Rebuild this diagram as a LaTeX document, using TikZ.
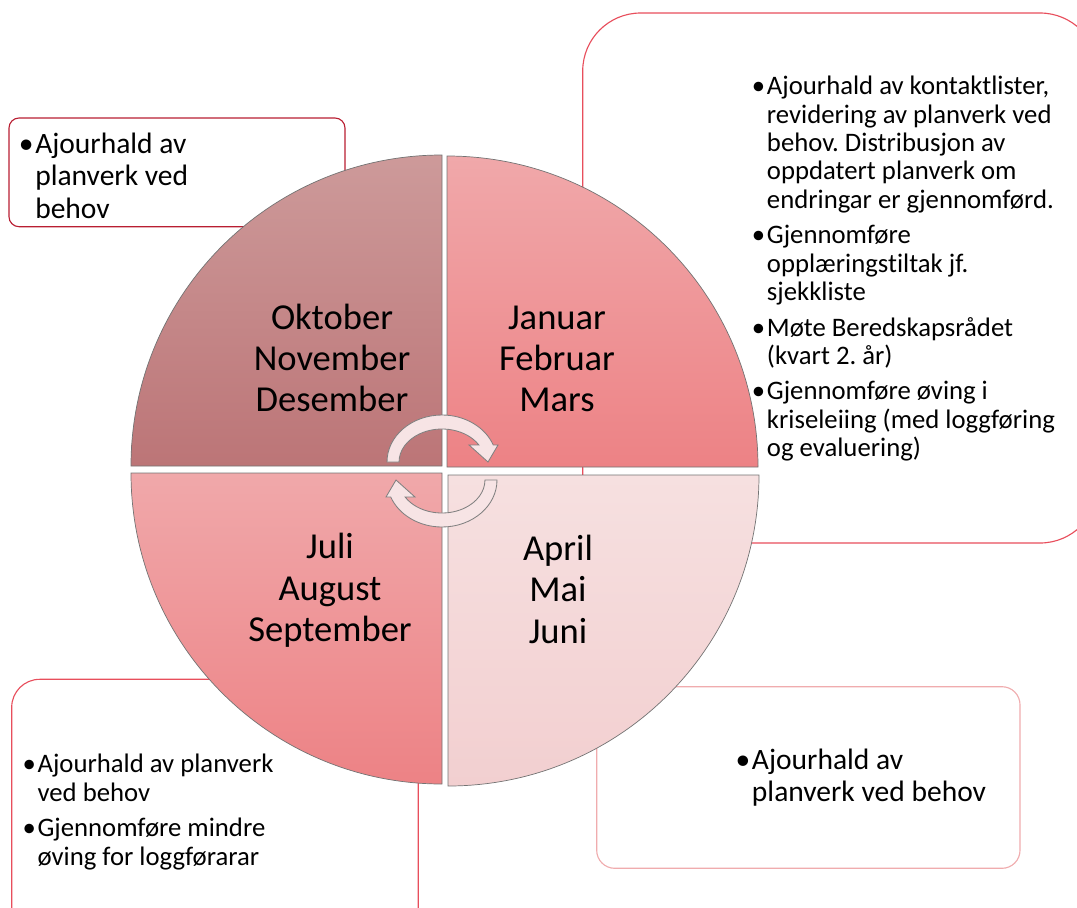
\documentclass[tikz,border=0pt]{standalone}
\usepackage{fontspec}
\setmainfont{Carlito}[Ligatures=NoCommon]
\usepackage{xcolor}
\frenchspacing

\definecolor{oktTop}{RGB}{205,154,154}
\definecolor{oktBot}{RGB}{188,117,119}
\definecolor{janTop}{RGB}{240,168,170}
\definecolor{janBot}{RGB}{237,130,133}
\definecolor{julTop}{RGB}{240,168,170}
\definecolor{julBot}{RGB}{237,130,133}
\definecolor{aprTop}{RGB}{246,224,224}
\definecolor{aprBot}{RGB}{242,207,208}
\definecolor{turnFill}{RGB}{247,228,229}
\definecolor{boxDark}{RGB}{185,30,50}
\definecolor{boxRed}{RGB}{232,78,92}
\definecolor{boxPale}{RGB}{240,172,174}

\newcommand{\bp}{\llap{\textbullet\hspace{1.2pt}}}

\begin{document}
\begin{tikzpicture}[x=0.025cm, y=0.025cm,
	month/.style={font=\fontsize{26}{29.4}\selectfont, align=center, anchor=base, inner sep=0pt},
	noteL/.style={font=\fontsize{21}{23}\selectfont, align=left, anchor=base west, inner sep=0pt},
	noteS/.style={font=\fontsize{19}{20.2}\selectfont, align=left, anchor=base west, inner sep=0pt},
	quad/.style={draw=black!55, line width=0.5pt},
	turn/.style={draw=black!50, line width=0.6pt, fill=turnFill}]
	\useasboundingbox (0,0) rectangle (1077,-907);
	\clip (0,0) rectangle (1077,-907);

	% frames behind the wheel
	\draw[boxDark, line width=0.8pt, fill=white, rounded corners=0.25cm] (9,-118) rectangle (345,-226.7);
	\draw[boxRed, line width=0.8pt, fill=white, rounded corners=1.45cm] (582.7,-13) rectangle (1098,-543);
	\draw[boxRed, line width=0.8pt, fill=white, rounded corners=0.7cm] (11.7,-679.3) rectangle (418.3,-940);
	\draw[boxPale, line width=0.8pt, fill=white, rounded corners=0.45cm] (596.7,-686.7) rectangle (1020,-868.3);

	% the four quarters
	\shade[quad, top color=oktTop, bottom color=oktBot] (442,-466) -- ++(-311,0) arc[start angle=180, end angle=90, radius=311] -- cycle;
	\shade[quad, top color=janTop, bottom color=janBot] (447,-467) -- ++(0,311) arc[start angle=90, end angle=0, radius=311] -- cycle;
	\shade[quad, top color=aprTop, bottom color=aprBot] (448,-475) -- ++(311,0) arc[start angle=0, end angle=-90, radius=311] -- cycle;
	\shade[quad, top color=julTop, bottom color=julBot] (442,-473) -- ++(0,-311) arc[start angle=270, end angle=180, radius=311] -- cycle;

	% turning arrows
	\foreach \r in {0,180}{
		\draw[turn, rotate around={\r:(442,-471)}] (387,-462)
			arc[start angle=180, end angle=21.2, x radius=55, y radius=47]
			-- (498,-445) -- (488,-462) -- (469,-445) -- (478.9,-445)
			arc[start angle=31, end angle=180, x radius=43, y radius=33] -- cycle;
	}

	\node[month] (okt) at (332,-411.8) {Oktober\\November\\Desember};
	\node[month] (jan) at (557,-411.8) {Januar\\Februar\\Mars};
	\node[month] (jul) at (330,-641.6) {Juli\\August\\September};
	\node[month] (apr) at (558,-643) {April\\Mai\\Juni};

	\node[noteL] (noteOkt) at (35,-218) {\bp Ajourhald av\\planverk ved\\behov};
	\node[noteS] (noteJan) at (766.7,-456.7) {\bp Ajourhald av kontaktlister,\\revidering av planverk ved\\behov. Distribusjon av\\oppdatert planverk om\\endringar er gjennomførd.\\[5pt]
		\bp Gjennomføre\\opplæringstiltak jf.\\sjekkliste\\[5pt]
		\bp Møte Beredskapsrådet\\(kvart 2. år)\\[5pt]
		\bp Gjennomføre øving i\\kriseleiing (med loggføring\\og evaluering)};
	\node[noteS] (noteJul) at (37.3,-865) {\bp Ajourhald av planverk\\ved behov\\[5pt]
		\bp Gjennomføre mindre\\øving for loggførarar};
	\node[noteL] (noteApr) at (751.7,-801.7) {\bp Ajourhald av\\planverk ved behov};
\end{tikzpicture}
\end{document}
